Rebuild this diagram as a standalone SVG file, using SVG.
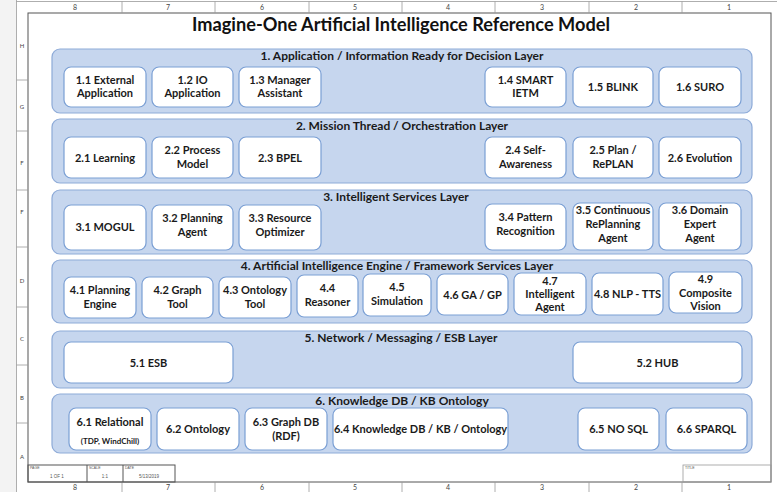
<svg xmlns="http://www.w3.org/2000/svg" width="777" height="492" viewBox="0 0 777 492">
<style>
.frame{fill:none;stroke:#555;stroke-width:1}
.thin{fill:none;stroke:#999;stroke-width:0.8}
.zone{font-family:Lato,"Liberation Sans",sans-serif;font-size:7px;fill:#444;text-anchor:middle}
.tiny{font-family:"Liberation Sans",sans-serif;font-size:3.5px;fill:#555}
.tinyc{font-family:"Liberation Sans",sans-serif;font-size:4.5px;fill:#555;text-anchor:middle}
.title{font-family:Lato,"Liberation Sans",sans-serif;font-size:18.2px;font-weight:bold;fill:#111;text-anchor:middle}
.layer rect{fill:#c6d6ee;stroke:#8eabd8;stroke-width:1.2}
.layer text{font-family:Lato,"Liberation Sans",sans-serif;font-size:12px;font-weight:bold;fill:#1a1a1a;text-anchor:middle}
.node rect{fill:#fff;stroke:#7a9fd4;stroke-width:1.2}
.node text{font-family:Lato,"Liberation Sans",sans-serif;font-size:11px;font-weight:bold;fill:#1a1a1a;text-anchor:middle}
.node text.sm{font-size:8px}
</style>
<rect x="0" y="0" width="777" height="492" fill="#fff"/>
<rect x="0" y="0" width="16" height="492" fill="#f3f3f3"/>
<g id="border">
<line class="thin" x1="16.5" y1="0" x2="16.5" y2="492"/>
<line class="thin" x1="16.5" y1="1.5" x2="777" y2="1.5"/>
<rect class="frame" x="28" y="13" width="743" height="469"/>
<g class="thin">
<line x1="122" y1="1.5" x2="122" y2="13"/><line x1="215" y1="1.5" x2="215" y2="13"/><line x1="309" y1="1.5" x2="309" y2="13"/><line x1="402" y1="1.5" x2="402" y2="13"/><line x1="495" y1="1.5" x2="495" y2="13"/><line x1="589" y1="1.5" x2="589" y2="13"/><line x1="682" y1="1.5" x2="682" y2="13"/>
<line x1="122" y1="482" x2="122" y2="492"/><line x1="215" y1="482" x2="215" y2="492"/><line x1="309" y1="482" x2="309" y2="492"/><line x1="402" y1="482" x2="402" y2="492"/><line x1="495" y1="482" x2="495" y2="492"/><line x1="589" y1="482" x2="589" y2="492"/><line x1="682" y1="482" x2="682" y2="492"/>
<line x1="16.5" y1="80" x2="28" y2="80"/><line x1="16.5" y1="131" x2="28" y2="131"/><line x1="16.5" y1="190" x2="28" y2="190"/><line x1="16.5" y1="247" x2="28" y2="247"/><line x1="16.5" y1="307" x2="28" y2="307"/><line x1="16.5" y1="365" x2="28" y2="365"/><line x1="16.5" y1="423" x2="28" y2="423"/>
</g>
<g class="zone">
<text x="75" y="10">8</text><text x="168" y="10">7</text><text x="262" y="10">6</text><text x="355" y="10">5</text><text x="448" y="10">4</text><text x="542" y="10">3</text><text x="636" y="10">2</text><text x="729" y="10">1</text>
<text x="75" y="490">8</text><text x="168" y="490">7</text><text x="262" y="490">6</text><text x="355" y="490">5</text><text x="448" y="490">4</text><text x="542" y="490">3</text><text x="636" y="490">2</text><text x="729" y="490">1</text>
<text x="22" y="48" font-size="6">H</text><text x="22" y="109" font-size="6">G</text><text x="22" y="165" font-size="6">F</text><text x="22" y="214" font-size="6">F</text><text x="22" y="283" font-size="6">D</text><text x="22" y="341" font-size="6">C</text><text x="22" y="400" font-size="6">B</text><text x="22" y="459" font-size="6">A</text>
</g>
<g id="titleblock">
<rect class="frame" x="28" y="465" width="147" height="17" stroke-width="0.7"/>
<line class="frame" x1="87" y1="465" x2="87" y2="482" stroke-width="0.7"/>
<line class="frame" x1="123" y1="465" x2="123" y2="482" stroke-width="0.7"/>
<text class="tiny" x="30" y="469">PAGE</text><text class="tinyc" x="57" y="478">1 OF 1</text>
<text class="tiny" x="89" y="469">SCALE</text><text class="tinyc" x="105" y="478">1:1</text>
<text class="tiny" x="125" y="469">DATE</text><text class="tinyc" x="149" y="478">5/13/2019</text>
<rect class="thin" x="683" y="465" width="88" height="17"/>
<text class="tiny" x="685" y="469">TITLE</text>
</g>
</g>
<text class="title" x="401" y="31">Imagine-One Artificial Intelligence Reference Model</text>

<g id="layer1" class="layer"><rect x="52" y="49" width="700" height="64" rx="8"/><text x="402" y="60">1. Application / Information Ready for Decision Layer</text></g>
<g id="layer2" class="layer"><rect x="52" y="119" width="700" height="64" rx="8"/><text x="402" y="130">2. Mission Thread / Orchestration Layer</text></g>
<g id="layer3" class="layer"><rect x="52" y="190" width="700" height="64" rx="8"/><text x="396" y="201">3. Intelligent Services Layer</text></g>
<g id="layer4" class="layer"><rect x="52" y="260" width="700" height="63" rx="8"/><text x="397" y="269.5">4. Artificial Intelligence Engine / Framework Services Layer</text></g>
<g id="layer5" class="layer"><rect x="52" y="331" width="700" height="57" rx="8"/><text x="401" y="342">5. Network / Messaging / ESB Layer</text></g>
<g id="layer6" class="layer"><rect x="52" y="394" width="700" height="59" rx="8"/><text x="402" y="405">6. Knowledge DB / KB Ontology</text></g>

<g id="n1_1" class="node"><rect x="64" y="67" width="82" height="40" rx="7"/><text x="105" y="83.5">1.1 External</text><text x="105" y="97">Application</text></g>
<g id="n1_2" class="node"><rect x="152" y="67" width="81" height="40" rx="7"/><text x="192.5" y="83.5">1.2 IO</text><text x="192.5" y="97">Application</text></g>
<g id="n1_3" class="node"><rect x="239" y="67" width="82" height="40" rx="7"/><text x="280" y="83.5">1.3 Manager</text><text x="280" y="97">Assistant</text></g>
<g id="n1_4" class="node"><rect x="485" y="67" width="81" height="40" rx="7"/><text x="525.5" y="83.5">1.4 SMART</text><text x="525.5" y="97">IETM</text></g>
<g id="n1_5" class="node"><rect x="573" y="67" width="80" height="40" rx="7"/><text x="613" y="91">1.5 BLINK</text></g>
<g id="n1_6" class="node"><rect x="659" y="67" width="82" height="40" rx="7"/><text x="700" y="91">1.6 SURO</text></g>

<g id="n2_1" class="node"><rect x="64" y="137" width="82" height="41" rx="7"/><text x="105" y="161.5">2.1 Learning</text></g>
<g id="n2_2" class="node"><rect x="152" y="137" width="81" height="41" rx="7"/><text x="192.5" y="154">2.2 Process</text><text x="192.5" y="167.5">Model</text></g>
<g id="n2_3" class="node"><rect x="239" y="137" width="82" height="41" rx="7"/><text x="280" y="161.5">2.3 BPEL</text></g>
<g id="n2_4" class="node"><rect x="485" y="137" width="81" height="41" rx="7"/><text x="525.5" y="154">2.4 Self-</text><text x="525.5" y="167.5">Awareness</text></g>
<g id="n2_5" class="node"><rect x="573" y="137" width="80" height="41" rx="7"/><text x="613" y="154">2.5 Plan /</text><text x="613" y="167.5">RePLAN</text></g>
<g id="n2_6" class="node"><rect x="659" y="137" width="82" height="41" rx="7"/><text x="700" y="161.5">2.6 Evolution</text></g>

<g id="n3_1" class="node"><rect x="64" y="205" width="82" height="45" rx="7"/><text x="105" y="231">3.1 MOGUL</text></g>
<g id="n3_2" class="node"><rect x="152" y="205" width="81" height="45" rx="7"/><text x="192.5" y="222">3.2 Planning</text><text x="192.5" y="236">Agent</text></g>
<g id="n3_3" class="node"><rect x="239" y="205" width="82" height="45" rx="7"/><text x="280" y="222">3.3 Resource</text><text x="280" y="236">Optimizer</text></g>
<g id="n3_4" class="node"><rect x="485" y="204" width="81" height="46" rx="7"/><text x="525.5" y="221">3.4 Pattern</text><text x="525.5" y="235">Recognition</text></g>
<g id="n3_5" class="node"><rect x="573" y="203" width="80" height="47" rx="7"/><text x="613" y="214">3.5 Continuous</text><text x="613" y="228">RePlanning</text><text x="613" y="242">Agent</text></g>
<g id="n3_6" class="node"><rect x="659" y="203" width="82" height="47" rx="7"/><text x="700" y="214">3.6 Domain</text><text x="700" y="228">Expert</text><text x="700" y="242">Agent</text></g>

<g id="n4_1" class="node"><rect x="64" y="277" width="72" height="41" rx="7"/><text x="100" y="294">4.1 Planning</text><text x="100" y="307.5">Engine</text></g>
<g id="n4_2" class="node"><rect x="142" y="277" width="71" height="41" rx="7"/><text x="177.5" y="294">4.2 Graph</text><text x="177.5" y="307.5">Tool</text></g>
<g id="n4_3" class="node"><rect x="219" y="277" width="72" height="41" rx="7"/><text x="255" y="294">4.3 Ontology</text><text x="255" y="307.5">Tool</text></g>
<g id="n4_4" class="node"><rect x="297" y="275" width="61" height="42" rx="7"/><text x="327.5" y="292">4.4</text><text x="327.5" y="305.5">Reasoner</text></g>
<g id="n4_5" class="node"><rect x="363" y="274" width="68" height="42" rx="7"/><text x="397" y="291">4.5</text><text x="397" y="304.5">Simulation</text></g>
<g id="n4_6" class="node"><rect x="437" y="274" width="71" height="41" rx="7"/><text x="472.5" y="298.5">4.6 GA / GP</text></g>
<g id="n4_7" class="node"><rect x="514" y="273" width="72" height="42" rx="7"/><text x="550" y="284.5">4.7</text><text x="550" y="298">Intelligent</text><text x="550" y="311">Agent</text></g>
<g id="n4_8" class="node"><rect x="592" y="273" width="71" height="42" rx="7"/><text x="627.5" y="298">4.8 NLP - TTS</text></g>
<g id="n4_9" class="node"><rect x="669" y="272" width="73" height="41" rx="7"/><text x="705.5" y="283">4.9</text><text x="705.5" y="296.5">Composite</text><text x="705.5" y="309.5">Vision</text></g>

<g id="n5_1" class="node"><rect x="64" y="342" width="169" height="41" rx="7"/><text x="148.5" y="366.5">5.1 ESB</text></g>
<g id="n5_2" class="node"><rect x="573" y="342" width="169" height="41" rx="7"/><text x="657.5" y="366.5">5.2 HUB</text></g>

<g id="n6_1" class="node"><rect x="69" y="408" width="82" height="42" rx="7"/><text x="110" y="426" font-size="11.5">6.1 Relational</text><text class="sm" x="110" y="444">(TDP, WindChill)</text></g>
<g id="n6_2" class="node"><rect x="157" y="408" width="82" height="42" rx="7"/><text x="198" y="433" font-size="11.5">6.2 Ontology</text></g>
<g id="n6_3" class="node"><rect x="245" y="408" width="82" height="42" rx="7"/><text x="286" y="426" font-size="11.5">6.3 Graph DB</text><text x="286" y="440" font-size="11.5">(RDF)</text></g>
<g id="n6_4" class="node"><rect x="333" y="408" width="175" height="42" rx="7"/><text x="420.5" y="433" font-size="11.5">6.4 Knowledge DB / KB / Ontology</text></g>
<g id="n6_5" class="node"><rect x="578" y="408" width="81" height="42" rx="7"/><text x="618.5" y="433" font-size="11.5">6.5 NO SQL</text></g>
<g id="n6_6" class="node"><rect x="666" y="408" width="81" height="42" rx="7"/><text x="706.5" y="433" font-size="11.5">6.6 SPARQL</text></g>
</svg>
